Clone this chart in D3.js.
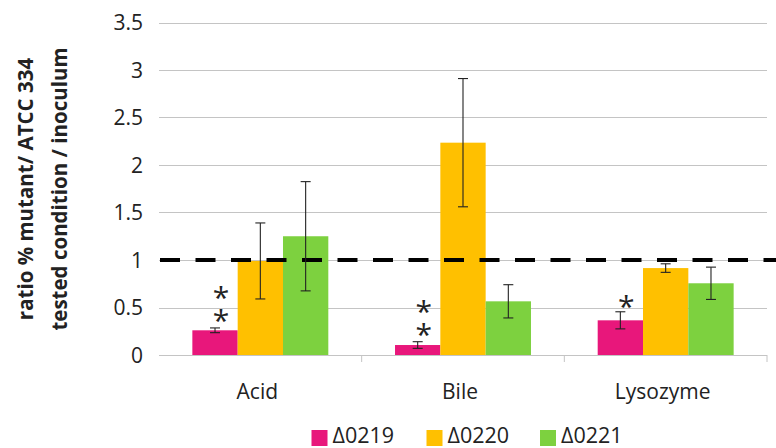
<!DOCTYPE html>
<html>
<head>
<meta charset="utf-8">
<script src="https://cdn.jsdelivr.net/npm/d3@7"></script>
<style>
  html, body { margin: 0; padding: 0; background: #fff; }
  svg { display: block; }
  text { font-family: "Open Sans", "Noto Sans", sans-serif; fill: #222; }
  .stack { writing-mode: vertical-rl; text-orientation: upright; }
</style>
</head>
<body>
<svg id="chart" width="776" height="448"></svg>
<script>
// ---- data ----
const categories = ["Acid", "Bile", "Lysozyme"];
const seriesNames = ["\u03940219", "\u03940220", "\u03940221"];
const seriesColors = ["#E8177B", "#FFC000", "#7DD13F"];
const valuesD0219 = [0.26, 0.105, 0.365];
const valuesD0220 = [0.99, 2.235, 0.915];
const valuesD0221 = [1.25, 0.565, 0.755];
const errorsD0219 = [0.025, 0.035, 0.09];
const errorsD0220 = [0.40, 0.675, 0.045];
const errorsD0221 = [0.575, 0.175, 0.17];
const significanceD0219 = ["**", "**", "*"];
const yTicks = [0, 0.5, 1, 1.5, 2, 2.5, 3, 3.5];
const referenceLine = 1;
const yTitleLines = ["ratio % mutant/ ATCC 334", "tested condition / inoculum"];

const seriesValues = [valuesD0219, valuesD0220, valuesD0221];
const seriesErrors = [errorsD0219, errorsD0220, errorsD0221];

// ---- layout ----
const svg = d3.select("#chart");
const plotLeft = 159, plotRight = 767, plotTop = 22.5, plotBottom = 355;

const x0 = d3.scaleBand().domain(categories).range([plotLeft, plotRight]).paddingInner(0).paddingOuter(0);
const x1 = d3.scaleBand().domain(d3.range(seriesNames.length)).range([0, x0.bandwidth()]).paddingInner(0).paddingOuter(0.736);
const y = d3.scaleLinear().domain([0, 3.5]).range([plotBottom, plotTop]);

// gridlines
svg.append("g").selectAll("line").data(yTicks).join("line")
  .attr("x1", plotLeft).attr("x2", plotRight)
  .attr("y1", d => Math.round(y(d)) + 0.5).attr("y2", d => Math.round(y(d)) + 0.5)
  .attr("stroke", "#c4c4c4").attr("stroke-width", 1);

// category ticks on the x axis
svg.append("g").selectAll("line").data(categories.slice(1).concat([null])).join("line")
  .attr("x1", d => d === null ? plotRight : x0(d)).attr("x2", d => d === null ? plotRight : x0(d))
  .attr("y1", plotBottom).attr("y2", plotBottom + 7)
  .attr("stroke", "#c4c4c4").attr("stroke-width", 1);

// y tick labels
svg.append("g").selectAll("text").data(yTicks).join("text")
  .attr("x", 143).attr("y", d => y(d)).attr("dy", "0.36em")
  .attr("text-anchor", "end").attr("font-size", 21)
  .text(d => d3.format("~g")(d));

// y title
yTitleLines.forEach((t, i) => {
  svg.append("text")
    .attr("transform", `translate(${33 + i * 33.5},189) rotate(-90)`)
    .attr("text-anchor", "middle").attr("font-size", 20.5).attr("font-weight", "bold")
    .attr("fill", "#111")
    .text(t);
});

// bars
const barData = [];
categories.forEach((c, ci) => {
  seriesNames.forEach((s, si) => {
    barData.push({ c, ci, si, v: seriesValues[si][ci], e: seriesErrors[si][ci] });
  });
});

svg.append("g").selectAll("rect").data(barData).join("rect")
  .attr("x", d => x0(d.c) + x1(d.si))
  .attr("y", d => y(d.v))
  .attr("width", x1.bandwidth())
  .attr("height", d => y(0) - y(d.v))
  .attr("fill", d => seriesColors[d.si]);

// reference dashed line
svg.append("line")
  .attr("x1", plotLeft + 1).attr("x2", 776)
  .attr("y1", y(referenceLine)).attr("y2", y(referenceLine))
  .attr("stroke", "#000").attr("stroke-width", 4)
  .attr("stroke-dasharray", "20,15.5");

// error bars
const eg = svg.append("g").attr("stroke", "#222").attr("stroke-width", 1.1);
barData.forEach(d => {
  const cx = x0(d.c) + x1(d.si) + x1.bandwidth() / 2;
  const yt = y(d.v + d.e), yb = y(d.v - d.e);
  eg.append("line").attr("x1", cx).attr("x2", cx).attr("y1", yt).attr("y2", yb);
  eg.append("line").attr("x1", cx - 5).attr("x2", cx + 5).attr("y1", yt).attr("y2", yt);
  eg.append("line").attr("x1", cx - 5).attr("x2", cx + 5).attr("y1", yb).attr("y2", yb);
});

// significance asterisks above Δ0219 (stacked vertically as one text element)
categories.forEach((c, ci) => {
  const marks = significanceD0219[ci];
  const cx = x0(c) + x1(0) + x1.bandwidth() / 2 + 6;
  const top = y(seriesValues[0][ci] + seriesErrors[0][ci]);
  if (marks.length === 1) {
    svg.append("text")
      .attr("x", cx).attr("y", top - 11 + 16)
      .attr("text-anchor", "middle").attr("font-size", 30).attr("fill", "#111")
      .text(marks);
  } else {
    const midCy = top - 11 - (marks.length - 1) * 22.5 / 2;
    svg.append("text").attr("class", "stack")
      .attr("x", cx).attr("y", midCy - 6.5)
      .attr("text-anchor", "middle").attr("font-size", 30).attr("fill", "#111")
      .attr("letter-spacing", -18)
      .text(marks);
  }
});

// category labels
svg.append("g").selectAll("text").data(categories).join("text")
  .attr("x", d => x0(d) + x0.bandwidth() / 2 - 3).attr("y", 398.5)
  .attr("text-anchor", "middle").attr("font-size", 21)
  .text(d => d);

// legend
const legendX = [311.5, 426.5, 540];
const lg = svg.append("g");
seriesNames.forEach((s, i) => {
  lg.append("rect").attr("x", legendX[i]).attr("y", 430).attr("width", 16).attr("height", 16)
    .attr("fill", seriesColors[i]);
  lg.append("text").attr("x", legendX[i] + 21).attr("y", 443)
    .attr("font-size", 21.5).text(s);
});
</script>
</body>
</html>
